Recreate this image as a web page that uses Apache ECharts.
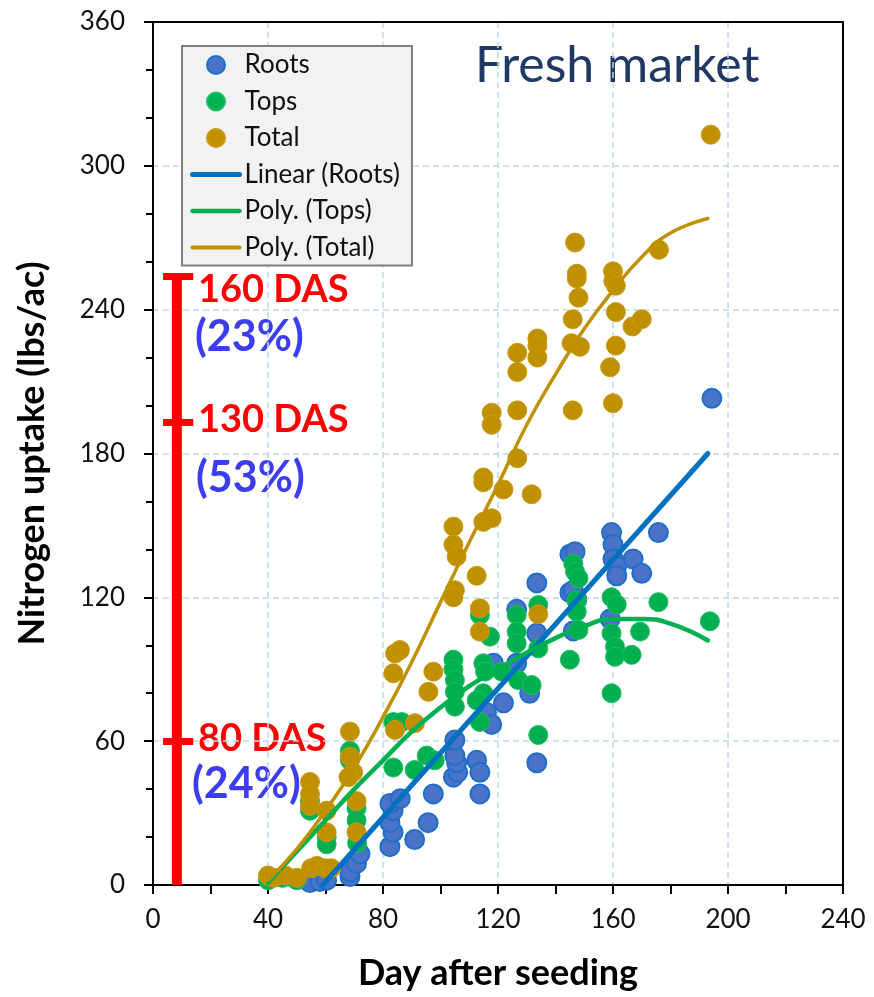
<!DOCTYPE html>
<html>
<head>
<meta charset="utf-8">
<script src="https://cdn.jsdelivr.net/npm/echarts@6/dist/echarts.min.js"></script>
<style>
  html, body { margin: 0; padding: 0; background: #fff; }
  #chart { width: 874px; height: 997px; }
</style>
</head>
<body>
<div id="chart"></div>
<script>
// scatter points [day, N uptake]
const roots = [
  [54.6, 1], [58, 1.5], [60.4, 2], [68.5, 3.5], [68.5, 5.5], [70.8, 9], [72, 13],
  [82.4, 16], [83.5, 22], [82.4, 26], [83.5, 31], [82.4, 34], [86, 36], [91, 19], [95.7, 26], [97.5, 38],
  [104.5, 45], [106, 47], [105.6, 51], [105, 54], [105, 60.5], [112.6, 52], [113.7, 47], [113.7, 38],
  [116, 72], [117.8, 67], [121.9, 76], [118.4, 92.5], [126.5, 92.5], [126.5, 115], [131, 80],
  [133.5, 126], [133.5, 105], [133.5, 51],
  [145, 138], [145, 122], [146.2, 123], [147.4, 119], [146.2, 106], [146.8, 139],
  [159.5, 147], [160, 142], [160, 136], [161.3, 133], [161.3, 129], [159, 111], [167, 136], [170, 130], [175.8, 147],
  [194.4, 203]
]
const tops = [
  [40, 2], [45, 3], [50, 2], [54.6, 31], [54.6, 35], [60.4, 20], [60.4, 17], [68.5, 56], [68.5, 52],
  [70.8, 32], [70.8, 27], [71, 17.5],
  [83.6, 68], [86.5, 68], [83.6, 49], [91, 48], [95.2, 54], [98, 52],
  [104.5, 94], [104.5, 90], [105, 85.5], [105, 80.6], [105, 74.4], [114.9, 92.5], [115.5, 89], [114.9, 80],
  [112.6, 77], [113.7, 68], [117.2, 103.6], [113.7, 112.6], [121.3, 89],
  [126.5, 112.6], [126.5, 105.7], [126.5, 100.8], [127, 85.5], [131.7, 83.4], [134, 116.8], [134, 98.7], [134, 62.6],
  [145, 94], [146.2, 134], [146.8, 130.7], [148, 128], [147.4, 119], [147.4, 114], [148, 106.4],
  [159.5, 120], [161.3, 117], [159.5, 105], [160.7, 99.4], [160.7, 95.2], [166.5, 96], [169.4, 105.7],
  [175.8, 118], [159.5, 80],
  [193.7, 110]
]
const total = [
  [40, 4], [42, 3], [46, 4], [50, 3],
  [54.6, 43], [54.6, 38], [54.6, 33], [55, 7], [57, 8], [60.4, 31], [60.4, 22], [60, 7], [62, 7],
  [68.5, 64], [68.5, 53.5], [69.6, 47], [70.8, 35], [70.8, 22], [68, 45],
  [84.2, 96.6], [85.9, 98], [83.6, 88.3], [84.2, 64.7], [91.1, 67.5], [95.8, 80.6], [97.5, 89],
  [104.5, 149.5], [104.5, 142], [105.6, 137], [105, 123], [104.5, 120], [112.6, 129], [113.7, 115.4], [113.7, 105.7],
  [114.9, 151.5], [117.8, 153], [114.9, 170], [114.9, 168], [121.9, 165], [117.8, 197], [117.8, 192],
  [126.7, 222], [126.7, 214], [126.7, 198], [126.7, 178], [131.7, 163], [133.7, 228], [133.7, 225], [133.7, 220], [134, 113],
  [146.8, 268], [147.4, 255], [147.4, 253], [148, 245], [146, 236], [145.6, 226], [148.5, 224.5], [146, 198],
  [160, 256], [160.1, 252], [161, 250], [161, 239], [161, 225], [159, 216], [160, 201],
  [166.8, 233], [170, 236], [176, 265], [194, 313]
]

// trend lines
const rootsTrend = [[59, 0], [193, 180]]
const topsTrend = [
  [40, 1], [50, 14], [60, 27], [70, 40], [80, 52], [90, 64], [100, 74], [110, 83],
  [120, 90], [130, 97], [140, 103], [150, 108], [160, 111], [170, 111], [180, 109], [193, 102]
]
const totalTrend = [
  [40, 2], [50, 15], [60, 31], [70, 49], [80, 70], [90, 93], [100, 118], [110, 143],
  [120, 167], [130, 192], [140, 213], [150, 232], [160, 248], [170, 262], [180, 272], [193, 278]
]

// red DAS marker
const dasX = 8.3
const dasLevels = [254, 193, 60]
const dasTickFrom = 3.5
const dasTickTo = 14

const xTicks = { min: 0, max: 240, interval: 40 }
const yTicks = { min: 0, max: 360, interval: 60 }

const font = 'Lato'
const chart = echarts.init(document.getElementById('chart'))

const axisCommon = {
  type: 'value',
  axisLine: { show: true, lineStyle: { color: '#000', width: 2 } },
  axisTick: { show: true, length: 9, lineStyle: { color: '#000', width: 2 } },
  minorTick: { show: true, length: 7, lineStyle: { color: '#000', width: 2 } },
  splitLine: { show: true, lineStyle: { color: '#bdd7ee', width: 1.5, type: [6, 4] } },
  nameLocation: 'middle',
  nameTextStyle: { fontFamily: font, fontWeight: 'bold', fontSize: 36, color: '#000' }
}

// plain frame lines for top / right
const frameAxis = {
  type: 'value',
  axisLine: { show: true, onZero: false, lineStyle: { color: '#000', width: 2 } },
  axisTick: { show: false },
  axisLabel: { show: false },
  splitLine: { show: false },
  z: 5
}

const lineOnlyIcon = { opacity: 0 }

chart.setOption({
  animation: false,
  backgroundColor: '#fff',
  grid: { left: 153, right: 31, top: 22, bottom: 112 },
  legend: {
    orient: 'vertical',
    left: 182, top: 46,
    padding: [6, 12, 5, 8],
    itemWidth: 47, itemHeight: 18, itemGap: 10.5,
    backgroundColor: '#f2f2f2', borderColor: '#7f7f7f', borderWidth: 2,
    textStyle: { fontFamily: font, fontSize: 26, color: '#111', lineHeight: 26 },
    data: [
      'Roots', 'Tops', 'Total',
      { name: 'Linear (Roots)', itemStyle: lineOnlyIcon, lineStyle: { width: 5 } },
      { name: 'Poly. (Tops)', itemStyle: lineOnlyIcon, lineStyle: { width: 4.5 } },
      { name: 'Poly. (Total)', itemStyle: lineOnlyIcon, lineStyle: { width: 4 } }
    ]
  },
  xAxis: [
    Object.assign({}, axisCommon, xTicks, {
      name: 'Day after seeding',
      nameGap: 70,
      minorTick: Object.assign({}, axisCommon.minorTick, { splitNumber: 2, length: 9 }),
      axisLabel: { fontFamily: font, fontSize: 26, color: '#111', margin: 22 }
    }),
    Object.assign({}, frameAxis, xTicks, { position: 'top' })
  ],
  yAxis: [
    Object.assign({}, axisCommon, yTicks, {
      name: 'Nitrogen uptake (lbs/ac)',
      nameGap: 103,
      minorTick: Object.assign({}, axisCommon.minorTick, { splitNumber: 3 }),
      axisLabel: { fontFamily: font, fontSize: 26, color: '#111', margin: 28 }
    }),
    Object.assign({}, frameAxis, yTicks, { position: 'right' })
  ],
  series: [
    {
      name: 'Roots', type: 'scatter', data: roots, symbolSize: 19,
      itemStyle: { color: '#4a72c6', borderColor: '#1f6fc9', borderWidth: 2, opacity: 1 }
    },
    {
      name: 'Tops', type: 'scatter', data: tops, symbolSize: 19,
      itemStyle: { color: '#00b050', borderColor: '#1cbd62', borderWidth: 1, opacity: 1 }
    },
    {
      name: 'Total', type: 'scatter', data: total, symbolSize: 19,
      itemStyle: { color: '#bf9000', borderColor: '#c99a10', borderWidth: 1, opacity: 1 }
    },
    {
      name: 'Linear (Roots)', type: 'line', data: rootsTrend, symbol: 'none',
      lineStyle: { color: '#0070c0', width: 5, cap: 'round' }, itemStyle: { color: '#0070c0' }
    },
    {
      name: 'Poly. (Tops)', type: 'line', data: topsTrend, symbol: 'none', smooth: true,
      lineStyle: { color: '#00b050', width: 4.5, cap: 'round' }, itemStyle: { color: '#00b050' }
    },
    {
      name: 'Poly. (Total)', type: 'line', data: totalTrend, symbol: 'none', smooth: true,
      lineStyle: { color: '#bf9000', width: 3.5, cap: 'round' }, itemStyle: { color: '#bf9000' }
    },
    {
      type: 'line', symbol: 'none', silent: true,
      data: [[dasX, 0], [dasX, dasLevels[0]]],
      lineStyle: { color: '#ff0000', width: 10 },
      markLine: {
        silent: true, symbol: 'none',
        lineStyle: { color: '#ff0000', width: 7, type: 'solid' },
        label: { show: false },
        data: dasLevels.map(v => [{ coord: [dasTickFrom, v] }, { coord: [dasTickTo, v] }])
      }
    }
  ],
  graphic: [
    { type: 'text', left: 475, top: 41, style: { text: 'Fresh market', font: `50px ${font}`, fill: '#1f3864' } },
    { type: 'text', left: 198, top: 271, style: { text: '160 DAS', font: `bold 38px ${font}`, fill: '#ff0000' } },
    { type: 'text', left: 195, top: 316, style: { text: '(23%)', font: `bold 43px ${font}`, fill: '#3c3cf0' } },
    { type: 'text', left: 198, top: 401, style: { text: '130 DAS', font: `bold 38px ${font}`, fill: '#ff0000' } },
    { type: 'text', left: 196, top: 457, style: { text: '(53%)', font: `bold 43px ${font}`, fill: '#3c3cf0' } },
    { type: 'text', left: 198, top: 720, style: { text: '80 DAS', font: `bold 38px ${font}`, fill: '#ff0000' } },
    { type: 'text', left: 192, top: 763, style: { text: '(24%)', font: `bold 43px ${font}`, fill: '#3c3cf0' } }
  ]
})
</script>
</body>
</html>
